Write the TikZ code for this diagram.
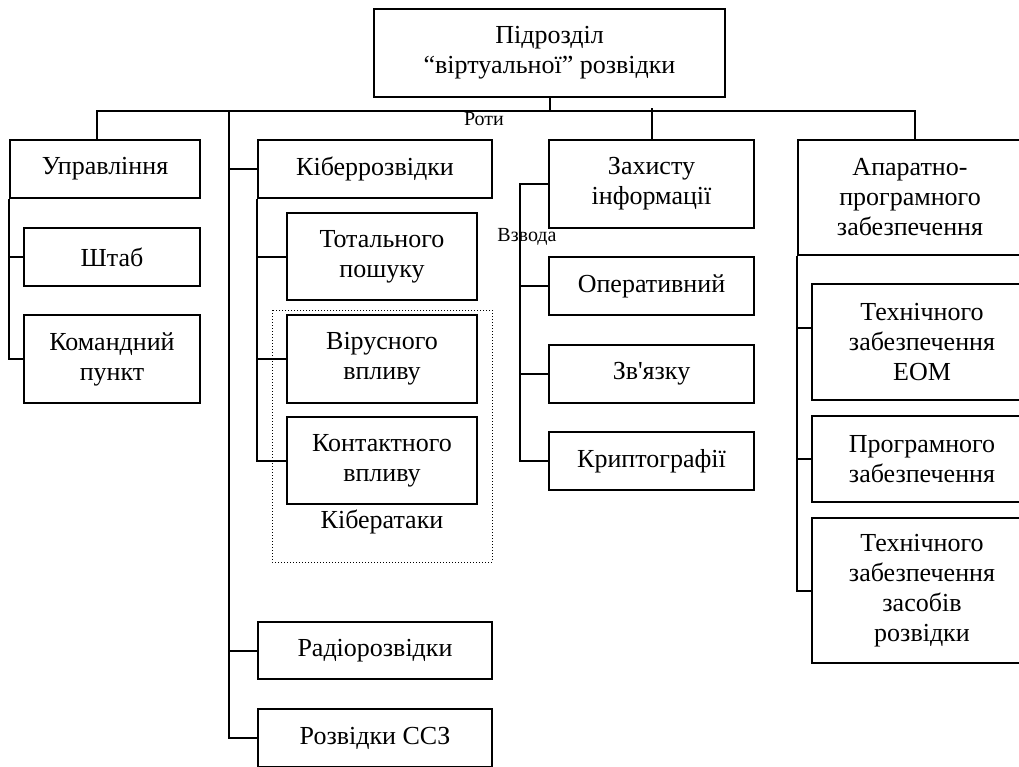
\documentclass[tikz,border=0pt]{standalone}
\usepackage{fontspec}
\setmainfont{Liberation Serif}[Ligatures=TeXOff]
\usetikzlibrary{positioning, calc}
\tikzset{
    unit/.style={draw, line width=2pt, align=center, inner sep=2pt,
                 font=\fontsize{26}{30}\selectfont},
    size/.style 2 args={minimum width=#1pt, minimum height=#2pt},
    link/.style={-, line width=2pt},
    tag/.style={font=\fontsize{20}{22}\selectfont, inner sep=0pt},
    group/.style={dotted, line width=1pt},
}

\begin{document}
\begin{tikzpicture}[x=1pt, y=-1pt]
    \useasboundingbox (0,0) rectangle (1019,767);

    % head
    \node[unit, size={351}{88}] (head) at (549.5,53) {Підрозділ\\“віртуальної” розвідки};
    \coordinate (bus) at (549.5,111);

    % companies
    \node[unit, size={190}{58}] (ctrl) at (105,169) {Управління};
    \node[unit, size={234}{58}] (cyber) at (375,169) {Кіберрозвідки};
    \node[unit, size={205}{88}] (prot) at (651.5,184) {Захисту\\інформації};
    \node[unit, size={224}{115}] (hw) at (910,197.5) {Апаратно-\\програмного\\забезпечення};
    \node[unit, size={234}{57}] (radio) at (375,650.5) {Радіорозвідки};
    \node[unit, size={234}{58}] (ssz) at (375,738) {Розвідки ССЗ};

    % platoons
    \node[unit, size={176}{58}] (staff) at (112,257) {Штаб};
    \node[unit, size={176}{88}] (post) at (112,359) {Командний\\пункт};
    \node[unit, size={190}{87}] (search) at (382,256.5) {Тотального\\пошуку};
    \node[unit, size={190}{88}] (virus) at (382,359) {Вірусного\\впливу};
    \node[unit, size={190}{87}] (contact) at (382,460.5) {Контактного\\впливу};
    \node[unit, size={205}{58}] (oper) at (651.5,286) {Оперативний};
    \node[unit, size={205}{58}] (comm) at (651.5,373.5) {Зв'язку};
    \node[unit, size={205}{58}] (crypto) at (651.5,461) {Криптографії};
    \node[unit, size={220}{116}] (eom) at (922,342) {Технічного\\забезпечення\\ЕОМ};
    \node[unit, size={220}{86}] (soft) at (922,459) {Програмного\\забезпечення};
    \node[unit, size={220}{145}] (means) at (922,590.5) {Технічного\\забезпечення\\засобів\\розвідки};

    % labels
    \node[tag] (rlabel) at (484,119) {Роти};
    \node[tag] (plabel) at (527,237) {Взвода};
    \node[unit, draw=none] (alabel) at (382,522) {Кібератаки};
    \draw[group] (272,310) rectangle (492,562);

    % bus
    \draw[link] (head.south) -- (bus);
    \draw[link] ([xshift=-8pt]ctrl.north) |- (bus) -| ([xshift=5pt]hw.north);
    \draw[link] (prot.north) -- ([yshift=3pt]prot.north |- bus);
    \coordinate (spine) at (229,111);
    \draw[link] (spine) |- (ssz.west);
    \draw[link] (spine |- cyber.west) -- (cyber.west);
    \draw[link] (spine |- radio.west) -- (radio.west);

    % branches
    \draw[link] (ctrl.south west) |- (post.west);
    \draw[link] (ctrl.south west |- staff.west) -- (staff.west);
    \draw[link] (cyber.south west) |- (contact.west);
    \draw[link] (cyber.south west |- search.west) -- (search.west);
    \draw[link] (cyber.south west |- virus.west) -- (virus.west);
    \coordinate (pspine) at ([xshift=-28pt]prot.west);
    \draw[link] (prot.west) -- (pspine) |- (crypto.west);
    \draw[link] (pspine |- oper.west) -- (oper.west);
    \draw[link] (pspine |- comm.west) -- (comm.west);
    \draw[link] (hw.south west) |- (means.west);
    \draw[link] (hw.south west |- soft.west) -- (soft.west);
    \draw[link] ([yshift=14pt]hw.south west |- eom.west) -- ([yshift=14pt]eom.west);
\end{tikzpicture}
\end{document}
